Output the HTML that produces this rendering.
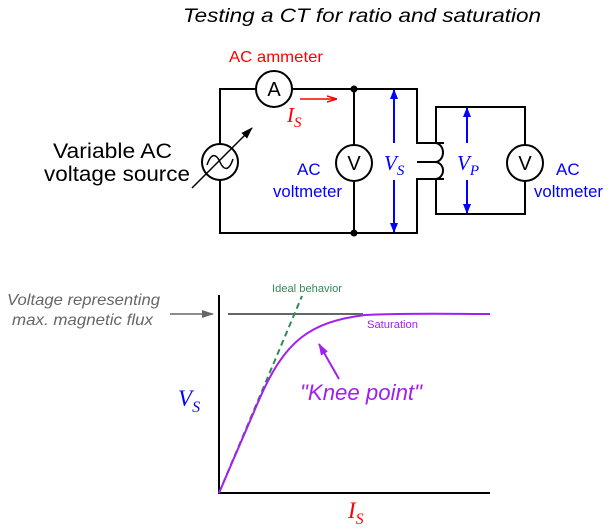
<!DOCTYPE html>
<html><head><style>body{margin:0;background:#fff}svg{display:block}</style></head><body>
<svg width="614" height="530" viewBox="0 0 614 530" xmlns="http://www.w3.org/2000/svg" font-family="Liberation Sans, sans-serif">
<defs>
<marker id="ab" markerWidth="10" markerHeight="8" refX="9" refY="4" orient="auto" markerUnits="userSpaceOnUse"><path d="M0,0 L10,4 L0,8 Z" fill="#00f"/></marker>
<marker id="ak" markerWidth="12" markerHeight="8" refX="11" refY="4" orient="auto" markerUnits="userSpaceOnUse"><path d="M0,0 L12,4 L0,8 Z" fill="#000"/></marker>
<marker id="ar" markerWidth="10" markerHeight="8" refX="10" refY="4" orient="auto" markerUnits="userSpaceOnUse"><path d="M0,1 L10,4 L0,7" fill="none" stroke="#f00" stroke-width="1.5"/></marker>
<marker id="ag" markerWidth="12" markerHeight="8" refX="11" refY="4" orient="auto" markerUnits="userSpaceOnUse"><path d="M0,0 L12,4 L0,8 Z" fill="#666"/></marker>
<marker id="ap" markerWidth="12" markerHeight="8" refX="11" refY="4" orient="auto" markerUnits="userSpaceOnUse"><path d="M0,0 L12,4 L0,8 Z" fill="#a020f0"/></marker>
</defs>
<text x="183" y="22" font-size="19" font-style="italic" textLength="358" lengthAdjust="spacingAndGlyphs">Testing a CT for ratio and saturation</text>
<g stroke="#000" stroke-width="2" fill="none">
<path d="M256,89 H220 V144 M220,180 V233 H417 V179 H435 M292,89 H417 V143 H435 M354,89 V145 M354,181 V233 M435,162 H417"/>
<path d="M435,143 a8,9.5 0 0 1 0,19 a8,8.5 0 0 1 0,17"/>
<path d="M444,143 H436 V107 H525 V145 M525,181 V214 H436 V179 H444"/>
<circle cx="274" cy="89" r="18" fill="#fff"/>
<circle cx="354" cy="163" r="18" fill="#fff"/>
<circle cx="525" cy="163" r="18" fill="#fff"/>
<circle cx="220" cy="162" r="18" fill="#fff"/>
<path d="M207,165 c4,-12 9,-12 13,-3 s9,9 13,-3" stroke-width="1.5"/>
<line x1="192" y1="188" x2="252" y2="128" stroke-width="1.5" marker-end="url(#ak)"/>
</g>
<circle cx="354" cy="89" r="3.5"/><circle cx="354" cy="233" r="3.5"/>
<g font-size="20" text-anchor="middle"><text x="274" y="96">A</text><text x="354" y="170">V</text><text x="525" y="170">V</text></g>
<text x="229" y="62" font-size="16" fill="#f00" textLength="94" lengthAdjust="spacingAndGlyphs">AC ammeter</text>
<line x1="300" y1="99" x2="337" y2="99" stroke="#f00" stroke-width="1.5" marker-end="url(#ar)"/>
<text x="287" y="122" font-size="21" font-style="italic" fill="#f00" font-family="Liberation Serif, serif">I<tspan font-size="15" dy="5">S</tspan></text>
<text x="53" y="158" font-size="21" textLength="119" lengthAdjust="spacingAndGlyphs">Variable AC</text>
<text x="44" y="181" font-size="21" textLength="146" lengthAdjust="spacingAndGlyphs">voltage source</text>
<g font-size="17" fill="#00f"><text x="297" y="175">AC</text><text x="273" y="197" textLength="69" lengthAdjust="spacingAndGlyphs">voltmeter</text><text x="556" y="175">AC</text><text x="534" y="197" textLength="69" lengthAdjust="spacingAndGlyphs">voltmeter</text></g>
<g stroke="#00f" stroke-width="2"><line x1="394" y1="143" x2="394" y2="90" marker-end="url(#ab)"/><line x1="394" y1="180" x2="394" y2="232" marker-end="url(#ab)"/>
<line x1="467" y1="143" x2="467" y2="108" marker-end="url(#ab)"/><line x1="467" y1="180" x2="467" y2="213" marker-end="url(#ab)"/></g>
<g font-family="Liberation Serif, serif" font-style="italic" fill="#00f"><text x="384" y="170" font-size="21">V<tspan font-size="15" dy="5">S</tspan></text><text x="457" y="170" font-size="21">V<tspan font-size="15" dy="5">P</tspan></text>
<text x="178" y="406" font-size="23">V<tspan font-size="16" dy="6">S</tspan></text></g>
<text x="348" y="518" font-size="23" font-style="italic" fill="#f00" font-family="Liberation Serif, serif">I<tspan font-size="16" dy="6">S</tspan></text>
<path d="M219,295 V493 H490" stroke="#000" stroke-width="2" fill="none"/>
<line x1="228" y1="314" x2="363" y2="314" stroke="#666" stroke-width="2"/>
<line x1="170" y1="314" x2="213" y2="314" stroke="#666" stroke-width="1.5" marker-end="url(#ag)"/>
<g font-size="16" font-style="italic" fill="#666"><text x="7" y="305" textLength="153" lengthAdjust="spacingAndGlyphs">Voltage representing</text><text x="12" y="325" textLength="141" lengthAdjust="spacingAndGlyphs">max. magnetic flux</text></g>
<line x1="219" y1="493" x2="302" y2="296" stroke="#2e8b57" stroke-width="2" stroke-dasharray="6,4"/>
<text x="272" y="292" font-size="11" fill="#2e8b57" textLength="70" lengthAdjust="spacingAndGlyphs">Ideal behavior</text>
<path d="M219,493 L259,400 C285,340 310,322 365,315 C400,313 450,314 490,314" stroke="#a020f0" stroke-width="2" fill="none"/>
<text x="367" y="328" font-size="11" fill="#a020f0" textLength="51" lengthAdjust="spacingAndGlyphs">Saturation</text>
<line x1="339" y1="379" x2="319" y2="344" stroke="#a020f0" stroke-width="2" marker-end="url(#ap)"/>
<text x="300" y="400" font-size="22" font-style="italic" fill="#a020f0" textLength="122" lengthAdjust="spacingAndGlyphs">"Knee point"</text>
</svg>
</body></html>
